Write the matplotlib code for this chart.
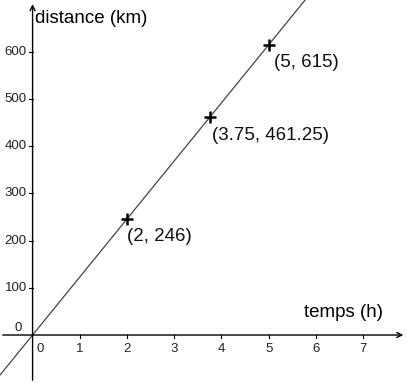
import numpy as np
import matplotlib.pyplot as plt

plt.rcParams['font.family'] = ['Liberation Sans', 'DejaVu Sans']

# donnees
pts_x = [2, 3.75, 5]
pts_y = [246, 461.25, 615]
pt_labels = ['(2, 246)', '(3.75, 461.25)', '(5, 615)']
xticks = [0, 1, 2, 3, 4, 5, 6, 7]
yticks = [100, 200, 300, 400, 500, 600]
vitesse = 123

fig = plt.figure(figsize=(4.07, 3.83), dpi=100)
ax = fig.add_axes([0, 0, 1, 1])
xmin, xmax = -0.69, 7.93
ymin, ymax = -101.7, 710
ax.set_xlim(xmin, xmax)
ax.set_ylim(ymin, ymax)
ax.axis('off')

# axes avec fleches
ax.annotate('', xy=(xmax - 0.02, 0), xytext=(xmin, 0),
            arrowprops=dict(arrowstyle='->', color='black', lw=1, mutation_scale=9))
ax.annotate('', xy=(0, ymax - 3), xytext=(0, ymin),
            arrowprops=dict(arrowstyle='->', color='black', lw=1, mutation_scale=9))

# graduations
for t in xticks[1:]:
    ax.plot([t, t], [0, -7], color='black', lw=0.8)
    ax.text(t, -16, str(t), ha='center', va='top', fontsize=9.5, color='#222222')
ax.text(0.17, -16, '0', ha='center', va='top', fontsize=9.5, color='#222222')
for v in yticks:
    ax.plot([0, -0.07], [v, v], color='black', lw=0.8)
    ax.text(-0.12, v, str(v), ha='right', va='center', fontsize=9.5, color='#222222')
ax.text(-0.3, 15, '0', ha='center', va='center', fontsize=9.5, color='#222222')

# droite d = 123 t
t = np.array([xmin - 0.5, xmax])
ax.plot(t, vitesse * t, color='#444444', lw=0.9)

# points
ax.plot(pts_x, pts_y, linestyle='none', marker='+', markersize=8,
        markeredgewidth=1.8, color='black')
offsets = [(0.0, -20), (0.05, -20), (0.12, -20)]
for x, y, lab, (dx, dy) in zip(pts_x, pts_y, pt_labels, offsets):
    ax.text(x + dx, y + dy, lab, ha='left', va='top', fontsize=13.5, color='#111111')

ax.text(0.06, 670, 'distance (km)', ha='left', va='center', fontsize=13.5)
ax.text(5.75, 48, 'temps (h)', ha='left', va='center', fontsize=13.5)

fig.savefig('out.png', dpi=100)
